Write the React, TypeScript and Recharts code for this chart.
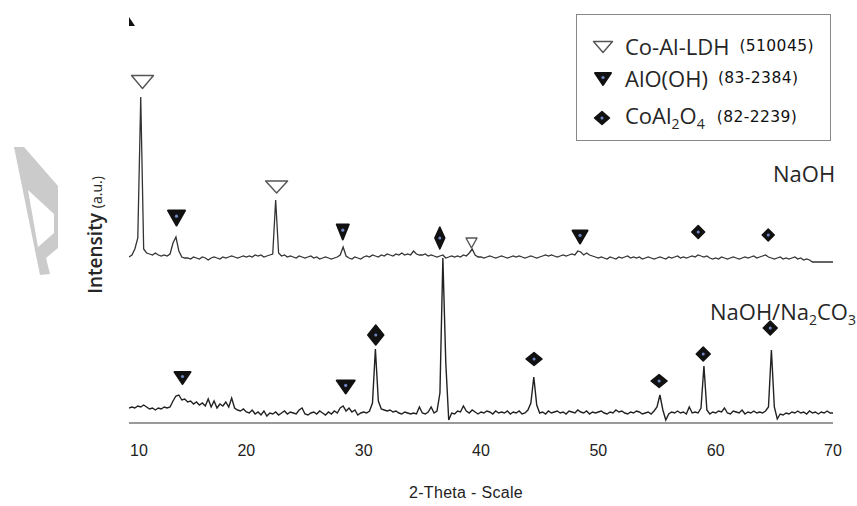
import React from 'react';
import { ComposedChart, Line, Scatter, XAxis, YAxis, ReferenceDot } from 'recharts';

// scan: 10–70° 2θ, 0.25° step
const THETA_START = 10;
const THETA_STEP = 0.25;

// NaOH sample (upper trace, offset)
const naohCounts = [
  166, 168, 174, 185, 326, 174, 170, 169, 168, 170, 168, 167, 168, 167, 169, 180, 186, 172, 166, 165,
  165, 164, 166, 165, 164, 166, 165, 163, 165, 166, 165, 164, 166, 165, 166, 167, 166, 165, 166, 167,
  166, 167, 166, 168, 167, 168, 166, 167, 168, 169, 223, 170, 167, 168, 166, 167, 166, 165, 167, 166,
  165, 166, 167, 165, 166, 164, 165, 166, 165, 164, 165, 166, 168, 176, 167, 165, 164, 166, 165, 164,
  166, 167, 166, 168, 167, 166, 168, 167, 169, 168, 167, 169, 168, 170, 168, 169, 168, 172, 169, 168,
  168, 169, 167, 168, 167, 166, 167, 168, 165, 166, 167, 166, 167, 166, 168, 167, 170, 174, 168, 166,
  166, 165, 166, 167, 166, 165, 166, 167, 166, 165, 166, 167, 166, 167, 166, 165, 166, 167, 166, 165,
  166, 167, 168, 167, 168, 167, 166, 167, 168, 167, 168, 169, 168, 172, 171, 168, 170, 168, 167, 166,
  165, 166, 165, 164, 166, 165, 164, 166, 165, 166, 167, 165, 166, 165, 166, 164, 165, 166, 165, 164,
  165, 166, 165, 164, 166, 165, 166, 167, 165, 166, 165, 166, 167, 166, 168, 167, 166, 167, 165, 164,
  165, 164, 166, 165, 164, 165, 166, 165, 164, 165, 166, 165, 166, 167, 165, 166, 167, 168, 166, 165,
  164, 165, 166, 164, 165, 164, 165, 166, 164, 165, 163, 164, 163, 161, 161, 161, 161, 161, 161, 161,
  161,
];

// NaOH/Na2CO3 sample (lower trace)
const carbonateCounts = [
  15, 16, 15, 17, 16, 18, 16, 14, 15, 13, 15, 14, 16, 15, 16, 22, 27, 28, 23, 24,
  21, 22, 19, 21, 18, 20, 17, 24, 16, 22, 15, 19, 17, 21, 16, 25, 15, 13, 12, 14,
  11, 10, 13, 9, 11, 8, 12, 7, 10, 9, 11, 8, 10, 12, 9, 11, 10, 9, 13, 15,
  9, 8, 10, 11, 9, 12, 10, 8, 11, 9, 12, 10, 15, 17, 12, 15, 11, 13, 8, 10,
  11, 10, 12, 20, 74, 22, 14, 13, 12, 13, 11, 12, 10, 9, 11, 10, 9, 10, 9, 16,
  10, 9, 11, 16, 10, 12, 30, 165, 60, 3, 10, 9, 12, 11, 17, 12, 10, 13, 11, 9,
  11, 10, 12, 11, 9, 12, 10, 11, 10, 12, 9, 11, 10, 12, 9, 10, 13, 20, 46, 18,
  10, 11, 9, 12, 10, 11, 12, 10, 11, 9, 12, 11, 10, 13, 11, 10, 12, 9, 11, 10,
  11, 12, 10, 9, 11, 10, 13, 11, 12, 10, 9, 11, 10, 12, 11, 9, 10, 11, 9, 12,
  16, 28, 13, 3, 9, 11, 10, 12, 10, 11, 9, 16, 10, 11, 10, 15, 57, 13, 9, 11,
  10, 12, 11, 15, 10, 9, 12, 11, 10, 13, 9, 11, 10, 12, 10, 11, 10, 12, 16, 73,
  16, 4, 9, 8, 10, 9, 11, 10, 12, 10, 11, 9, 12, 10, 11, 9, 11, 10, 12, 10,
  10,
];

const thetaTicks = [10, 20, 30, 40, 50, 60, 70];

// phase markers
const ldhTheta = [11.15, 22.58, 39.19];
const ldhCounts = [341, 236, 180];
const alohTheta = [14.05, 28.22, 48.44, 14.56, 28.47];
const alohCounts = [205, 191, 186, 45, 36];
const spinelTheta = [36.49, 58.51, 64.48, 31.03, 44.52, 55.18, 58.94, 64.65];
const spinelCounts = [185, 191, 188, 88, 64, 42, 69, 95];

// marker sizes (px), same order as above
const ldhSize = [[22, 13], [22, 12], [11, 10]];
const alohSize = [[17, 15], [12, 15], [15, 13], [16, 12], [18, 13]];
const spinelSize = [[10, 22], [13, 13], [12, 12], [16, 20], [16, 13], [16, 13], [14, 14], [14, 14]];

const scan = naohCounts.map((v, i) => ({
  theta: THETA_START + i * THETA_STEP,
  naoh: v,
  mixed: carbonateCounts[i],
}));
const ldhData = ldhTheta.map((t, i) => ({ theta: t, counts: ldhCounts[i] }));
const alohData = alohTheta.map((t, i) => ({ theta: t, counts: alohCounts[i] }));
const spinelData = spinelTheta.map((t, i) => ({ theta: t, counts: spinelCounts[i] }));

const DOT = '#6f86c4';

const OpenTri = ({ cx, cy, w, h }: any) => (
  <polygon
    points={`${cx - w / 2},${cy - h / 2} ${cx + w / 2},${cy - h / 2} ${cx},${cy + h / 2}`}
    fill="#fff"
    stroke="#555"
    strokeWidth={1.4}
    strokeLinejoin="round"
  />
);

const FillTri = ({ cx, cy, w, h }: any) => (
  <g>
    <polygon
      points={`${cx - w / 2},${cy - h / 2} ${cx + w / 2},${cy - h / 2} ${cx},${cy + h / 2}`}
      fill="#111"
      stroke="#111"
      strokeWidth={2}
      strokeLinejoin="round"
    />
    <circle cx={cx} cy={cy - h / 8} r={1.6} fill={DOT} />
  </g>
);

const Diamond = ({ cx, cy, w, h }: any) => (
  <g>
    <polygon
      points={`${cx},${cy - h / 2} ${cx + w / 2},${cy} ${cx},${cy + h / 2} ${cx - w / 2},${cy}`}
      fill="#111"
      stroke="#111"
      strokeWidth={1.5}
      strokeLinejoin="round"
    />
    <circle cx={cx} cy={cy} r={1.5} fill={DOT} />
  </g>
);

const sizeOf = (list: number[], sizes: number[][], theta: number) => {
  const i = list.indexOf(theta);
  return sizes[i < 0 ? 0 : i];
};

const ThetaTick = ({ x, y, payload }: any) => (
  <text
    x={x + (payload.value === 10 ? 10 : 0)}
    y={y + 33}
    textAnchor="middle"
    fontSize={16}
    fill="#222"
    fontFamily="'Liberation Sans', Arial, sans-serif"
  >
    {payload.value}
  </text>
);

const AxisArrow = ({ cx, cy }: any) => (
  <polygon points={`${cx},${cy - 1} ${cx + 6},${cy + 8} ${cx},${cy + 8}`} fill="#111" />
);

const ocr = { fontFamily: "'Open Sans', sans-serif", color: '#262626' };
const code = { fontFamily: "'DejaVu Sans', sans-serif", fontSize: 15.5, color: '#111', marginLeft: 10, letterSpacing: 0.4 };
const row = (top: number): React.CSSProperties => ({
  position: 'absolute',
  left: 48,
  top,
  height: 30,
  display: 'flex',
  alignItems: 'center',
  whiteSpace: 'nowrap',
  fontSize: 22,
  ...ocr,
});

export default function App() {
  return (
    <div style={{ position: 'absolute', left: 0, top: 0, width: 857, height: 506, background: '#fff', overflow: 'hidden' }}>
      <svg width={70} height={290} style={{ position: 'absolute', left: 0, top: 0 }}>
        <path
          d="M14,147 L24,147 L58,186 L58,248 L46,258 L50,274 L40,275 Z M28,190 L54,214 L54,233 L38,247 Z"
          fill="#cbcbcb"
          fillRule="evenodd"
        />
      </svg>

      <ComposedChart width={857} height={506} data={scan} margin={{ top: 18, right: 24, bottom: 23, left: 129 }}>
        <XAxis
          type="number"
          dataKey="theta"
          domain={[10, 70]}
          ticks={thetaTicks}
          allowDataOverflow
          height={60}
          tickSize={0}
          tickMargin={0}
          tickLine={false}
          axisLine={{ stroke: '#777', strokeWidth: 1.3 }}
          tick={<ThetaTick />}
        />
        <YAxis
          type="number"
          domain={[0, 405]}
          allowDataOverflow
          width={0}
          tick={false}
          tickLine={false}
          axisLine={{ stroke: '#8a8a8a', strokeWidth: 1.2 }}
        />
        <Line type="linear" dataKey="naoh" stroke="#333" strokeWidth={1.3} dot={false} activeDot={false} isAnimationActive={false} />
        <Line type="linear" dataKey="mixed" stroke="#222" strokeWidth={1.4} dot={false} activeDot={false} isAnimationActive={false} />
        <Scatter
          data={ldhData}
          dataKey="counts"
          isAnimationActive={false}
          shape={(p: any) => {
            const [w, h] = sizeOf(ldhTheta, ldhSize, p.payload.theta);
            return <OpenTri cx={p.cx} cy={p.cy} w={w} h={h} />;
          }}
        />
        <Scatter
          data={alohData}
          dataKey="counts"
          isAnimationActive={false}
          shape={(p: any) => {
            const [w, h] = sizeOf(alohTheta, alohSize, p.payload.theta);
            return <FillTri cx={p.cx} cy={p.cy} w={w} h={h} />;
          }}
        />
        <Scatter
          data={spinelData}
          dataKey="counts"
          isAnimationActive={false}
          shape={(p: any) => {
            const [w, h] = sizeOf(spinelTheta, spinelSize, p.payload.theta);
            return <Diamond cx={p.cx} cy={p.cy} w={w} h={h} />;
          }}
        />
        <ReferenceDot x={10} y={405} ifOverflow="visible" shape={<AxisArrow />} />
      </ComposedChart>

      {/* legend */}
      <div style={{ position: 'absolute', left: 576, top: 14, width: 255, height: 127, border: '1.5px solid #888', boxSizing: 'border-box' }}>
        <svg width={44} height={127} style={{ position: 'absolute', left: 0, top: 0 }}>
          <OpenTri cx={26} cy={32} w={19} h={11} />
          <FillTri cx={26} cy={64} w={16} h={12} />
          <Diamond cx={25} cy={103} w={15} h={13} />
        </svg>
        <div style={row(16)}>
          <span>Co-Al-LDH</span>
          <span style={code}>(510045)</span>
        </div>
        <div style={row(48)}>
          <span>AlO(OH)</span>
          <span style={code}>(83-2384)</span>
        </div>
        <div style={row(87)}>
          <span>
            CoAl<sub style={{ fontSize: 14 }}>2</sub>O<sub style={{ fontSize: 14 }}>4</sub>
          </span>
          <span style={{ ...code, marginLeft: 12 }}>(82-2239)</span>
        </div>
      </div>

      <div style={{ position: 'absolute', left: 773, top: 158, fontSize: 22, whiteSpace: 'nowrap', ...ocr }}>NaOH</div>
      <div style={{ position: 'absolute', left: 710, top: 296, fontSize: 22, whiteSpace: 'nowrap', ...ocr }}>
        NaOH/Na<sub style={{ fontSize: 14 }}>2</sub>CO<sub style={{ fontSize: 14 }}>3</sub>
      </div>

      <div
        style={{
          position: 'absolute',
          left: 95,
          top: 235,
          transform: 'translate(-50%, -50%) rotate(-90deg)',
          whiteSpace: 'nowrap',
          fontSize: 19,
          fontWeight: 600,
          ...ocr,
        }}
      >
        Intensity <span style={{ fontSize: 14, fontWeight: 400 }}>(a.u.)</span>
      </div>

      <div
        style={{
          position: 'absolute',
          left: 366,
          top: 484,
          width: 200,
          textAlign: 'center',
          fontSize: 16,
          letterSpacing: 0.3,
          color: '#222',
          fontFamily: "'Liberation Sans', Arial, sans-serif",
        }}
      >
        2-Theta - Scale
      </div>
    </div>
  );
}
